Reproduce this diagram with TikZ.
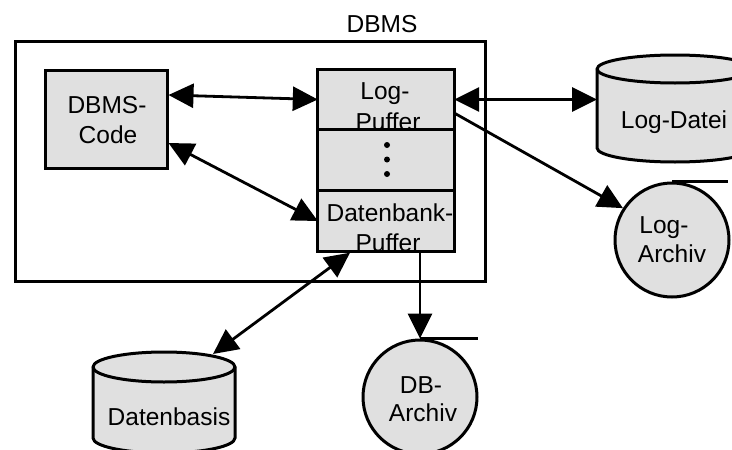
\documentclass[tikz,border=0pt]{standalone}
\usepackage{fontspec}
\setmainfont{Liberation Sans}
\usetikzlibrary{arrows.meta}
\definecolor{boxgray}{RGB}{224,224,224}
\begin{document}
\begin{tikzpicture}[x=1pt,y=-1pt,
  every node/.style={font=\fontsize{24.5}{30}\selectfont, inner sep=0pt},
  frame/.style={draw, line width=3pt, rectangle, inner sep=0pt},
  cell/.style={fill=boxgray, rectangle, inner sep=0pt, minimum width=136pt},
  txt/.style={anchor=base, inner sep=0pt},
  disk/.style={circle, draw, line width=3pt, fill=boxgray, minimum size=114pt},
  outl/.style={line width=3pt},
  arr/.style={line width=2.8pt, -{Triangle[length=25pt,width=24pt]}},
  darr/.style={line width=2.8pt, {Triangle[length=25pt,width=24pt]}-{Triangle[length=25pt,width=24pt]}}]
\useasboundingbox (0,0) rectangle (732,450);
\clip (0,0) rectangle (732,450);

% DBMS frame
\node[frame, minimum width=470pt, minimum height=240pt] (dbms) at (250,161) {};
\node[txt] (dbmslabel) at (382,32) {DBMS};

% DBMS-Code
\node[frame, fill=boxgray, minimum width=122pt, minimum height=98pt] (code) at (106,119) {};
\node[txt] (codet1) at (107,113) {DBMS-};
\node[txt] (codet2) at (108,143) {Code};

% buffer stack
\node[cell, minimum height=59pt] (logbuf) at (386,99.5) {};
\node[cell, minimum height=62pt] (midbuf) at (386,160) {};
\node[cell, minimum height=60pt] (dbbuf) at (386,221) {};
\node[txt] (lbt1) at (385,99) {Log-};
\node[txt] (lbt2) at (388,130) {Puffer};
\node[txt] (dbt1) at (390,221) {Datenbank-};
\node[txt] (dbt2) at (388,251) {Puffer};
\draw[outl] (logbuf.north west) rectangle (dbbuf.south east);
\draw[outl] (logbuf.south west) -- (logbuf.south east);
\draw[outl] (dbbuf.north west) -- (dbbuf.north east);
\fill (387,145) circle[radius=3pt];
\fill (387,159.5) circle[radius=3pt];
\fill (387,174) circle[radius=3pt];

% Log-Datei cylinder
\draw[outl, fill=boxgray] (597,69) -- (597,148)
  arc[start angle=180, end angle=360, x radius=78pt, y radius=14pt]
  -- (753,69) arc[start angle=0, end angle=180, x radius=78pt, y radius=14pt] -- cycle;
\draw[outl] (753,69) arc[start angle=0, end angle=-180, x radius=78pt, y radius=14pt];
\coordinate (logdatei) at (597,99.5);
\node[txt] (ldt) at (674,128) {Log-Datei};

% Datenbasis cylinder
\draw[outl, fill=boxgray] (93,367) -- (93,438)
  arc[start angle=180, end angle=360, x radius=71pt, y radius=15pt]
  -- (235,367) arc[start angle=0, end angle=180, x radius=71pt, y radius=15pt] -- cycle;
\draw[outl] (235,367) arc[start angle=0, end angle=-180, x radius=71pt, y radius=15pt];
\coordinate (dbasis) at (213,354);
\node[txt] (dbat) at (169,425) {Datenbasis};

% Log-Archiv
\node[disk] (logarch) at (672,240) {};
\draw[outl] (logarch.north) -- ++(56,0);
\node[txt] (lat1) at (664,233) {Log-};
\node[txt] (lat2) at (672,262) {Archiv};

% DB-Archiv
\node[disk] (dbarch) at (420,397) {};
\draw[outl] (dbarch.north) -- ++(58,0);
\node[txt] (dat1) at (421,393) {DB-};
\node[txt] (dat2) at (423,421) {Archiv};

% connectors
\draw[darr] ([yshift=24pt]code.east) -- (logbuf.west);
\draw[darr] ([yshift=-24pt]code.east) -- (dbbuf.west);
\draw[darr] (logbuf.east) -- (logdatei);
\draw[arr] ([yshift=-13.5pt]logbuf.east) -- (logarch.147);
\draw[darr] ([xshift=-36pt,yshift=-1.5pt]dbbuf.south) -- (dbasis);
\draw[arr] ([xshift=34pt,yshift=-1.5pt]dbbuf.south) -- (dbarch.north);
\end{tikzpicture}
\end{document}
